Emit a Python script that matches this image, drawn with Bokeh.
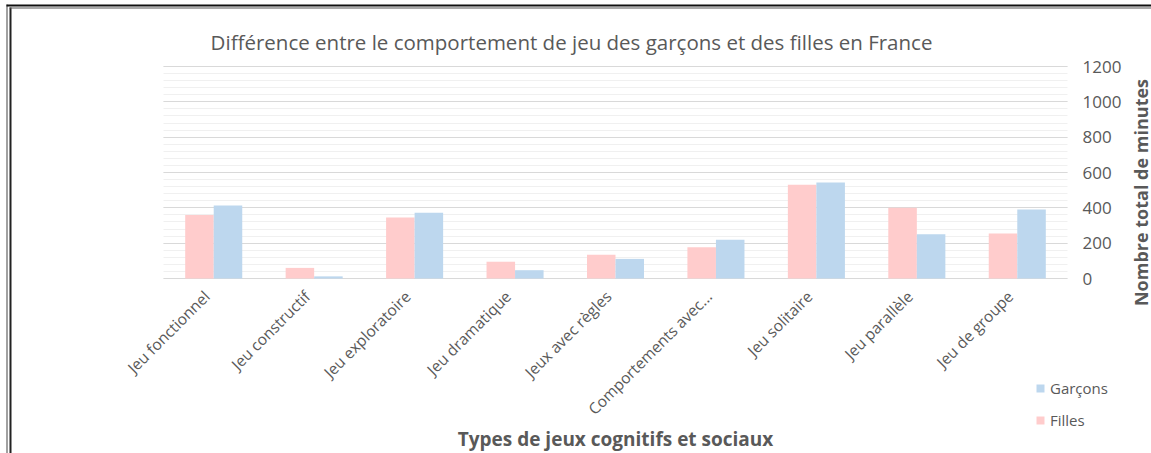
from math import pi
from bokeh.plotting import figure
from bokeh.models import (Range1d, SingleIntervalTicker, FixedTicker, Legend,
                          LegendItem, Label, ColumnDataSource, BoxAnnotation,
                          CustomJSTickFormatter)
from bokeh.transform import dodge
from bokeh.embed import file_html
from bokeh.resources import INLINE

# ---- data ----
categories = ["Jeu fonctionnel", "Jeu constructif", "Jeu exploratoire",
              "Jeu dramatique", "Jeux avec règles", "Comportements avec...",
              "Jeu solitaire", "Jeu parallèle", "Jeu de groupe"]
filles = [360, 60, 345, 95, 135, 177, 531, 400, 255]
garcons = [413, 12, 372, 47, 111, 219, 544, 251, 391]
y_ticks = [0, 200, 400, 600, 800, 1000, 1200]

TXT = "#595959"
FONT = "Open Sans"
W, H = 1151, 453

# layout geometry (screen px): plot area 163..1067 horizontally, 66..278 vertically
PL, PR, PT, PB = 163, 1067, 66, 278
ncat = len(categories)
cat_px = (PR - PL) / ncat
y_px = (PB - PT) / (y_ticks[-1] - y_ticks[0])
LABEL_SHIFT = 0.07  # rotated labels end at the category centre

xpos = list(range(ncat))
source = ColumnDataSource(dict(x=xpos, filles=filles, garcons=garcons))

x_range = Range1d(-0.5 - PL / cat_px, ncat - 0.5 + (W - PR) / cat_px)
y_range = Range1d(y_ticks[0] - (H - PB) / y_px, y_ticks[-1] + PT / y_px)

p = figure(width=W, height=H, x_range=x_range, y_range=y_range,
           y_axis_location="right",
           toolbar_location=None, output_backend="svg",
           min_border_left=0, min_border_right=0,
           min_border_top=0, min_border_bottom=0,
           styles={"margin-bottom": "-8px"})

p.outline_line_color = None
p.background_fill_color = "white"
p.border_fill_color = "white"

# double frame lines (left and top edges)
for (l, r, b, t, c) in [(6, 7, 0, H - 4, "#444444"), (9, 11, 0, H - 7, "#222222"),
                        (6, W, H - 6, H - 4, "#111111"), (9, W, H - 8, H - 7, "#555555")]:
    p.add_layout(BoxAnnotation(left=l, right=r, bottom=b, top=t,
                               left_units="screen", right_units="screen",
                               bottom_units="screen", top_units="screen",
                               fill_color=c, fill_alpha=1, line_color=None,
                               level="overlay"))

# bars
rf = p.vbar(x=dodge("x", -0.142), top="filles", width=0.284,
            source=source, fill_color="#FFCCCC", line_color=None)
rg = p.vbar(x=dodge("x", 0.142), top="garcons", width=0.284,
            source=source, fill_color="#BDD7EE", line_color=None)

# grids
p.xgrid.grid_line_color = None
yg = p.ygrid[0]
yg.ticker = SingleIntervalTicker(interval=200, num_minor_ticks=5)
yg.bounds = (y_ticks[0], y_ticks[-1])
yg.grid_line_color = "#d9d9d9"
yg.minor_grid_line_color = "#f0f0f0"
try:
    yg.cross_bounds = (-0.5, ncat - 0.5)
except Exception:
    pass

# y axis (right edge of the plot area)
ya = p.yaxis[0]
ya.ticker = SingleIntervalTicker(interval=200, num_minor_ticks=5)
ya.bounds = (y_ticks[0], y_ticks[-1])
ya.fixed_location = ncat - 0.5
ya.axis_line_color = None
ya.major_tick_line_color = None
ya.minor_tick_line_color = None
ya.major_label_standoff = 9
ya.major_label_text_font = FONT
ya.major_label_text_font_size = "17px"
ya.major_label_text_color = TXT

# x axis (at value 0)
xa = p.xaxis[0]
xa.ticker = FixedTicker(ticks=[i - LABEL_SHIFT for i in xpos])
xa.formatter = CustomJSTickFormatter(args=dict(labels=categories, shift=LABEL_SHIFT),
                                     code="return labels[Math.round(tick + shift)];")
xa.bounds = (-0.5, ncat - 0.5)
xa.fixed_location = 0
xa.axis_line_color = None
xa.major_tick_line_color = None
xa.minor_tick_line_color = None
xa.major_label_orientation = pi / 4
xa.major_label_standoff = 9
xa.major_label_text_font = FONT
xa.major_label_text_font_size = "15.5px"
xa.major_label_text_color = TXT

# titles
p.add_layout(Label(x=571, y=H - 41, x_units="screen", y_units="screen",
                   text="Différence entre le comportement de jeu des garçons et des filles en France",
                   text_align="center", text_baseline="middle",
                   text_font=FONT, text_font_size="20.5px", text_color=TXT))
p.add_layout(Label(x=615, y=H - 438, x_units="screen", y_units="screen",
                   text="Types de jeux cognitifs et sociaux",
                   text_align="center", text_baseline="middle",
                   text_font=FONT, text_font_size="19px", text_font_style="bold",
                   text_color=TXT))
p.add_layout(Label(x=1140, y=H - 192, x_units="screen", y_units="screen",
                   text="Nombre total de minutes", angle=pi / 2,
                   text_align="center", text_baseline="middle",
                   text_font=FONT, text_font_size="18px", text_font_style="bold",
                   text_color=TXT))

# legend
legend = Legend(items=[LegendItem(label="Garçons", renderers=[rg]),
                       LegendItem(label="Filles", renderers=[rf])],
                location=(1035, H - 430), orientation="vertical",
                glyph_width=10, glyph_height=10, label_standoff=5,
                padding=0, margin=0, spacing=12, label_height=20,
                border_line_color=None, background_fill_alpha=0,
                label_text_font=FONT, label_text_font_size="15px",
                label_text_color=TXT)
p.add_layout(legend)

open("out.html", "w").write(file_html(p, INLINE))
